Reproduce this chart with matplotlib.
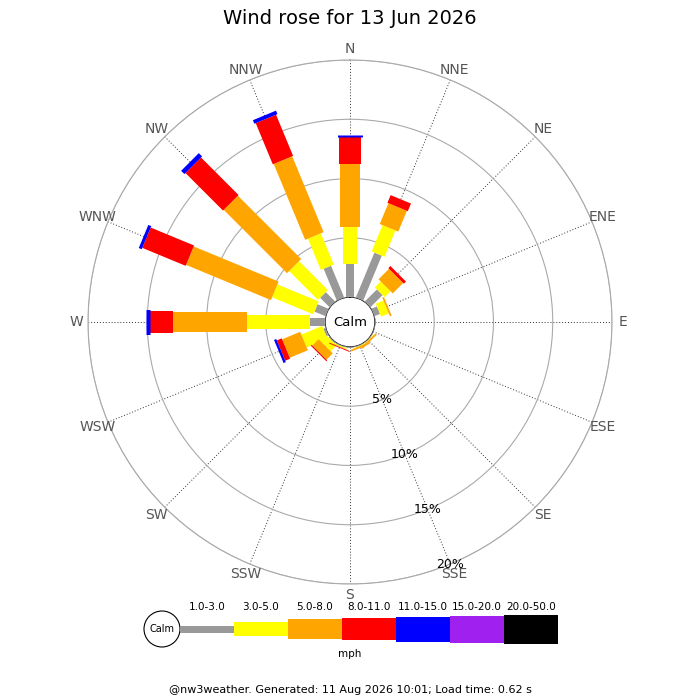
import numpy as np
import matplotlib
matplotlib.use('Agg')
import matplotlib.pyplot as plt
from matplotlib.patches import Circle

# wind directions (16 points)
yonler = ['N', 'NNE', 'NE', 'ENE', 'E', 'ESE', 'SE', 'SSE',
          'S', 'SSW', 'SW', 'WSW', 'W', 'WNW', 'NW', 'NNW']

# speed classes (mph)
siniflar = ['1.0-3.0', '3.0-5.0', '5.0-8.0', '8.0-11.0', '11.0-15.0', '15.0-20.0', '20.0-50.0']
renkler = ['#999999', '#ffff00', '#ffa500', '#ff0000', '#0000ff', '#a020f0', '#000000']
kalinlik = [8, 14, 20, 22, 25, 27, 29]  # bar width in px for each class

# percentage of time per direction for each speed class
v_1_3 = [2.76, 4.10, 1.45, 0.50, 0, 0, 0.05, 0.05, 0, 0.05, 0.10, 0.20, 1.26, 1.00, 1.13, 2.90]
v_3_5 = [3.17, 2.40, 0.70, 0.70, 0, 0, 0.05, 0.05, 0, 0.10, 0.70, 1.90, 5.29, 3.77, 3.44, 2.85]
v_5_8 = [5.26, 1.90, 1.25, 0.15, 0, 0, 0.15, 0.15, 0, 0.03, 0.75, 1.65, 6.29, 7.75, 7.55, 6.93]
v_8_11 = [2.33, 0.70, 0.25, 0, 0, 0, 0, 0, 0, 0.07, 0.10, 0.45, 1.97, 3.96, 4.48, 3.76]
v_11_15 = [0.14, 0, 0, 0, 0, 0, 0, 0, 0, 0, 0, 0.20, 0.28, 0.27, 0.39, 0.32]
v_15_20 = [0] * 16
v_20_50 = [0] * 16

halkalar = [5, 10, 15, 20]

seriler = [v_1_3, v_3_5, v_5_8, v_8_11, v_11_15, v_15_20, v_20_50]

fig = plt.figure(figsize=(7, 7), dpi=100)
ax = fig.add_axes([88 / 700, 116 / 700, 524 / 700, 524 / 700], projection='polar')
ax.set_theta_zero_location('N')
ax.set_theta_direction(-1)
ax.set_ylim(0, 20)
ax.set_rorigin(-2.1)

acilar = np.deg2rad(np.arange(16) * 22.5)

# grid
ax.set_xticks(acilar)
ax.set_xticklabels([])
ax.set_yticks(halkalar)
ax.set_yticklabels([])
ax.xaxis.grid(True, color='#333333', linestyle=(0, (1, 2)), linewidth=0.7)
ax.yaxis.grid(True, color='#aaaaaa', linestyle='-', linewidth=0.8)
ax.spines['polar'].set_color('#aaaaaa')
ax.spines['polar'].set_linewidth(0.8)
ax.tick_params(length=0)
ax.set_axisbelow(True)

# bars
alt = np.zeros(16)
for seri, renk, w in zip(seriler, renkler, kalinlik):
    seri = np.array(seri)
    for th, a, d in zip(acilar, alt, seri):
        if d > 0:
            ax.plot([th, th], [a, a + d], color=renk, linewidth=w * 0.72,
                    solid_capstyle='butt', zorder=3)
    alt = alt + seri

# calm circle
tt = np.linspace(0, 2 * np.pi, 200)
ax.plot(tt, np.zeros_like(tt), color='#aaaaaa', linewidth=0.8, zorder=4)
ax.text(0, -2.1, 'Calm', ha='center', va='center', fontsize=9.5, zorder=5)

# direction labels
for th, ad in zip(acilar, yonler):
    ax.text(th, 20.95, ad, ha='center', va='center', fontsize=10,
            color='#555555', clip_on=False)

# ring labels
for h in halkalar:
    ax.text(np.deg2rad(157.5), h, f'{h}%', ha='center', va='center',
            fontsize=9, color='black', zorder=5)

# title and footer
fig.text(0.5, 1 - 18 / 700, 'Wind rose for 13 Jun 2026', ha='center', va='center', fontsize=14)
fig.text(0.5, 1 - 690 / 700, '@nw3weather. Generated: 11 Aug 2026 10:01; Load time: 0.62 s',
         ha='center', va='center', fontsize=8)

# legend
lg = fig.add_axes([0, 0, 1, 1])
lg.set_xlim(0, 700)
lg.set_ylim(700, 0)
lg.axis('off')
lg.add_patch(Circle((162, 629), 18, facecolor='white', edgecolor='black', linewidth=0.8))
lg.text(162, 629, 'Calm', ha='center', va='center', fontsize=7)
for i, (etiket, renk, w) in enumerate(zip(siniflar, renkler, kalinlik)):
    x0 = 180 + i * 54
    h = w - 1 if i == 0 else w
    lg.bar(x0, h, width=54, bottom=629 - h / 2, align='edge', color=renk, linewidth=0)
    lg.text(x0 + 27, 607, etiket, ha='center', va='center', fontsize=7.5)
lg.text(350, 654, 'mph', ha='center', va='center', fontsize=7.5)

fig.savefig('out.png', dpi=100)
